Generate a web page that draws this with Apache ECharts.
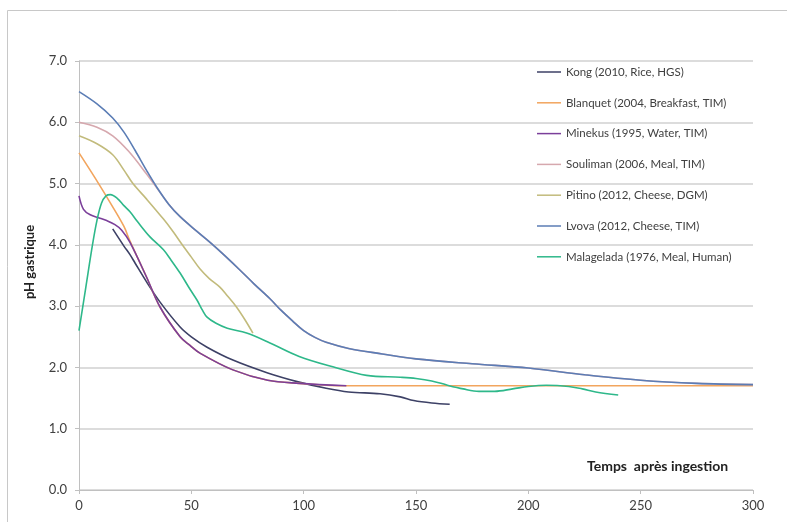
<!DOCTYPE html>
<html>
<head>
<meta charset="utf-8">
<script src="https://cdn.jsdelivr.net/npm/echarts@6/dist/echarts.min.js"></script>
<style>
html,body{margin:0;padding:0;background:#fff;}
#chart{width:787px;height:522px;}
</style>
</head>
<body>
<div id="chart"></div>
<script>
// ---- data ----
var seriesNames = [
  'Kong (2010, Rice, HGS)',
  'Blanquet (2004, Breakfast, TIM)',
  'Minekus (1995, Water, TIM)',
  'Souliman (2006, Meal, TIM)',
  'Pitino (2012, Cheese, DGM)',
  'Lvova (2012, Cheese, TIM)',
  'Malagelada (1976, Meal, Human)'
];
var yTicks = [0, 1, 2, 3, 4, 5, 6, 7];
var xTicks = [0, 50, 100, 150, 200, 250, 300];

var kongX = [15, 20, 22.7, 25, 30, 36, 45, 50, 57, 68.5, 84, 98, 110, 120, 134, 143, 149, 157, 165];
var kongY = [4.26, 3.98, 3.84, 3.70, 3.40, 3.07, 2.66, 2.50, 2.33, 2.12, 1.91, 1.76, 1.66, 1.60, 1.57, 1.52, 1.46, 1.42, 1.40];

var blanquetX = [0, 7, 14, 20, 22.7, 30, 36, 45, 49.4, 54, 68.5, 84, 98, 119, 150, 200, 250, 300];
var blanquetY = [5.50, 5.10, 4.68, 4.30, 4.06, 3.48, 2.99, 2.50, 2.36, 2.23, 1.96, 1.79, 1.74, 1.70, 1.70, 1.70, 1.70, 1.70];

var minekusX = [0, 2, 5, 9, 12, 16, 19, 22.7, 30, 36, 45, 49.4, 54, 68.5, 84, 98, 119];
var minekusY = [4.80, 4.58, 4.49, 4.44, 4.40, 4.33, 4.24, 4.04, 3.48, 2.99, 2.50, 2.36, 2.23, 1.96, 1.79, 1.74, 1.70];

var soulimanX = [0, 8, 15, 22, 30, 36, 40, 45, 52.5, 59.6, 65, 71.6, 78, 85, 90, 95, 100, 105, 110, 120, 135, 150, 175, 200, 225, 250, 275, 300];
var soulimanY = [6.00, 5.92, 5.78, 5.53, 5.16, 4.86, 4.66, 4.46, 4.22, 4.00, 3.82, 3.59, 3.36, 3.12, 2.93, 2.76, 2.60, 2.49, 2.41, 2.31, 2.22, 2.14, 2.06, 1.99, 1.88, 1.79, 1.74, 1.72];

var pitinoX = [0, 8, 15, 20, 24, 30, 37.6, 42, 45.8, 50, 53.8, 58, 62.7, 66, 70, 74, 77.4];
var pitinoY = [5.78, 5.65, 5.47, 5.22, 5.00, 4.75, 4.42, 4.21, 4.01, 3.80, 3.61, 3.45, 3.31, 3.17, 2.99, 2.77, 2.56];

var lvovaX = [0, 8, 15, 20, 25, 30, 35, 40, 45, 52.5, 59.6, 65, 71.6, 78, 85, 90, 95, 100, 105, 110, 120, 135, 150, 175, 200, 225, 250, 275, 300];
var lvovaY = [6.50, 6.30, 6.07, 5.84, 5.54, 5.22, 4.92, 4.66, 4.46, 4.22, 4.00, 3.82, 3.59, 3.36, 3.12, 2.93, 2.76, 2.60, 2.49, 2.41, 2.31, 2.22, 2.14, 2.06, 1.99, 1.88, 1.79, 1.74, 1.72];

var malageladaX = [0, 3, 6, 8, 10, 12, 14, 17, 20, 22.7, 26, 31.6, 37.6, 41, 45, 49, 52.5, 55, 57, 61, 66, 74.6, 85, 98, 113, 128, 143, 150, 157, 164, 171, 178, 185, 193, 200, 208, 218, 224, 230, 240];
var malageladaY = [2.60, 3.30, 4.00, 4.40, 4.68, 4.80, 4.82, 4.76, 4.64, 4.54, 4.38, 4.13, 3.92, 3.75, 3.54, 3.30, 3.10, 2.93, 2.82, 2.72, 2.64, 2.56, 2.40, 2.18, 2.01, 1.87, 1.84, 1.82, 1.78, 1.71, 1.65, 1.61, 1.61, 1.65, 1.69, 1.71, 1.69, 1.65, 1.60, 1.55];

// ---- styles ----
var colors = ['#3d4166', '#f2a55e', '#7b3f9a', '#d6a8ae', '#c2bb7c', '#5b7db5', '#2eb88a'];
var FONT = 'Lato, "Open Sans", sans-serif';

function pairs(xs, ys) {
  var out = [];
  for (var i = 0; i < xs.length; i++) out.push([xs[i], ys[i]]);
  return out;
}
var allData = [
  pairs(kongX, kongY),
  pairs(blanquetX, blanquetY),
  pairs(minekusX, minekusY),
  pairs(soulimanX, soulimanY),
  pairs(pitinoX, pitinoY),
  pairs(lvovaX, lvovaY),
  pairs(malageladaX, malageladaY)
];

var chart = echarts.init(document.getElementById('chart'), null, {renderer: 'canvas'});
var option = {
  animation: false,
  backgroundColor: '#ffffff',
  color: colors,
  grid: {left: 79, right: 34, top: 61, bottom: 32, containLabel: false},
  legend: {
    orient: 'vertical',
    left: 532,
    top: 60,
    icon: 'rect',
    itemWidth: 24,
    itemHeight: 1.5,
    itemGap: 16.8,
    data: seriesNames,
    textStyle: {fontFamily: FONT, fontSize: 11.5, color: '#404040', lineHeight: 14}
  },
  xAxis: {
    type: 'value',
    min: xTicks[0],
    max: xTicks[xTicks.length - 1],
    interval: 50,
    splitLine: {show: false},
    axisLine: {show: true, lineStyle: {color: '#c0c0c0', width: 1}},
    axisTick: {show: true, length: 4, lineStyle: {color: '#c0c0c0'}},
    axisLabel: {fontFamily: FONT, fontSize: 13, color: '#404040', margin: 9}
  },
  yAxis: {
    type: 'value',
    min: yTicks[0],
    max: yTicks[yTicks.length - 1],
    interval: 1,
    axisLine: {show: true, lineStyle: {color: '#c0c0c0', width: 1}},
    axisTick: {show: true, length: 4, lineStyle: {color: '#c0c0c0'}},
    splitLine: {show: true, lineStyle: {color: '#d0d0d0', width: 1.5}},
    axisLabel: {
      fontFamily: FONT, fontSize: 13, color: '#404040', margin: 12,
      formatter: function (v) { return v.toFixed(1); }
    }
  },
  graphic: [
    {
      type: 'rect',
      shape: {x: 7.5, y: 10.5, width: 900, height: 700},
      style: {fill: 'none', stroke: '#c8c8c8', lineWidth: 1},
      silent: true, z: -1
    },
    {
      type: 'text',
      x: 30, y: 262,
      rotation: Math.PI / 2,
      style: {
        text: 'pH gastrique', fontFamily: FONT, fontSize: 13, fontWeight: 'bold',
        fill: '#222', align: 'center', verticalAlign: 'middle'
      }
    },
    {
      type: 'text',
      x: 587, y: 466,
      style: {
        text: 'Temps  après ingestion', fontFamily: FONT, fontSize: 14, fontWeight: 'bold',
        fill: '#222', align: 'left', verticalAlign: 'middle'
      }
    }
  ],
  series: seriesNames.map(function (name, i) {
    return {
      name: name,
      type: 'line',
      data: allData[i],
      smooth: 0.35,
      symbol: 'none',
      showSymbol: false,
      lineStyle: {width: 1.6, color: colors[i]},
      itemStyle: {color: colors[i]}
    };
  })
};
chart.setOption(option);
</script>
</body>
</html>
